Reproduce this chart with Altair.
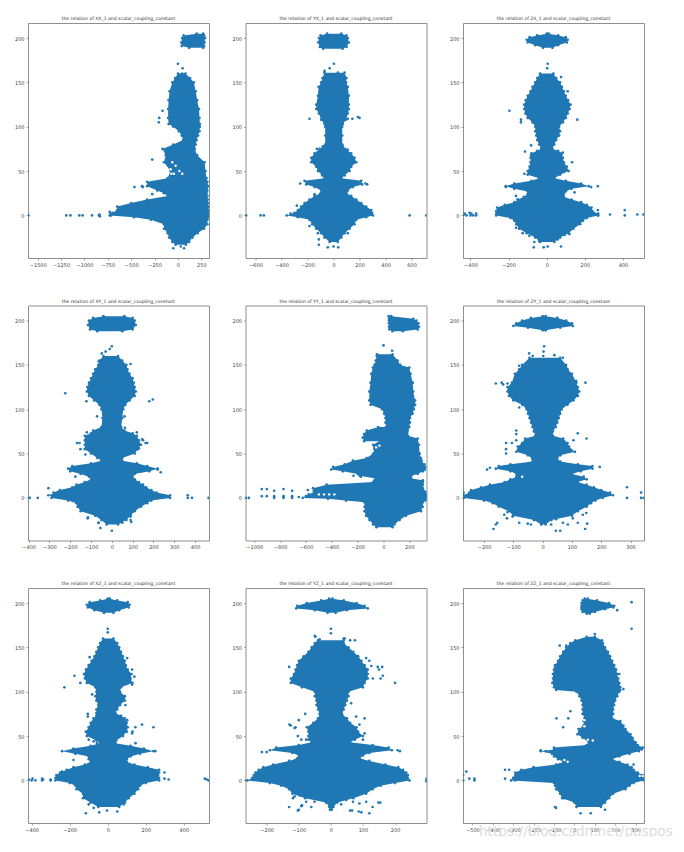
import altair as alt
import pandas as pd

BLUE = "#1f77b4"

NAMES = ["XX_1", "YX_1", "ZX_1", "XY_1", "YY_1", "ZY_1", "XZ_1", "YZ_1", "ZZ_1"]
Y_DOMAIN = [-48, 217]
Y_TICKS = [0, 50, 100, 150, 200]

X_DOMAINS = [[-1604, 332], [-677, 715], [-439, 510],
             [-403, 467], [-1068, 333], [-272, 346],
             [-419, 532], [-266, 298], [-546, 341]]
X_TICKS = [[-1500, -1250, -1000, -750, -500, -250, 0, 250],
           [-600, -400, -200, 0, 200, 400, 600],
           [-400, -200, 0, 200, 400],
           [-400, -300, -200, -100, 0, 100, 200, 300, 400],
           [-1000, -800, -600, -400, -200, 0, 200],
           [-200, -100, 0, 100, 200, 300],
           [-400, -200, 0, 200, 400],
           [-200, -100, 0, 100, 200],
           [-500, -400, -300, -200, -100, 0, 100, 200, 300]]

# Each row: scalar_coupling_constant level, left extent, right extent
XX_TOP = [(205,200,270),(203,60,280),(200,45,290),(195,35,285),(191,40,280),(189,120,270)]
XX_BODY = [(160,0,80),(155,-30,130),(150,-60,170),(140,-90,190),(130,-100,205),(120,-105,225),(110,-105,230),(103,-100,235),(100,-50,235),(95,10,230),(90,40,215),(85,55,200),(80,-50,190),(75,-165,180),(68,-130,205),(60,-150,285),(50,-80,295),(42,-110,305),(38,-330,315),(33,-330,325),(28,-220,315),(25,-150,307),(22,-110,315),(18,-330,320),(14,-500,322),(10,-650,325),(6,-650,328),(3,-700,332),(0,-730,332),(-2,-470,328),(-5,-290,315),(-10,-150,315),(-15,-150,280),(-20,-110,210),(-25,-95,155),(-30,-60,120),(-33,-25,85)]
XX_PTS = [(-1600,0),(-1195,0),(-1150,0),(-1055,0),(-1020,0),(-920,0),(-845,0),(-840,1),(-835,-1),(-720,2),(-715,0),(-730,4),(-465,32),(-385,33),(-375,32),(-275,63),(-275,24),(-165,118),(-200,110),(-205,105),(0,171),(50,166),(45,160),(-50,-37),(65,-37),(30,-35)]
XX_GAPS = [(-61,60),(-79,52),(-25,56),(46,47),(-43,47),(-70,47),(15,50)]

YX_TOP = [(205,-50,60),(203,-100,100),(200,-112,110),(195,-118,118),(190,-105,100),(188,-80,70)]
YX_BODY = [(161,-70,85),(155,-85,100),(150,-95,97),(145,-115,110),(135,-120,118),(125,-133,118),(120,-133,118),(115,-113,110),(108,-95,97),(103,-70,72),(100,-64,67),(90,-64,67),(80,-64,67),(78,-82,72),(75,-108,92),(70,-146,136),(65,-172,162),(60,-172,175),(55,-133,136),(50,-120,123),(45,-87,85),(42,-70,60),(39,-223,213),(35,-210,220),(32,-146,149),(28,-95,110),(25,-100,100),(22,-146,136),(18,-185,175),(14,-223,213),(10,-250,251),(6,-274,290),(3,-300,297),(0,-360,303),(-2,-274,251),(-5,-185,175),(-10,-164,162),(-15,-133,123),(-20,-95,85),(-25,-70,60),(-30,-30,33)]
YX_PTS = [(-185,109),(110,109),(145,109),(187,111),(200,110),(-30,166),(3,171),(-672,0),(-561,0),(-536,0),(585,0),(713,0),(-256,36),(246,36),(259,35),(-146,24),(-282,11),(-330,2),(-185,-12),(-113,-33),(-113,-27),(36,-36),(-44,-36),(0,-35),(110,-20),(-120,-20),(-128,75),(110,74),(167,60),(-69,163),(-56,157),(33,161),(85,153)]
YX_GAPS = []

ZX_TOP = [(205,0,10),(203,-50,60),(201,-90,100),(198,-105,110),(195,-100,105),(192,-60,60),(189,-20,30)]
ZX_BODY = [(160,-35,35),(155,-50,50),(150,-60,70),(145,-75,80),(140,-85,90),(135,-100,100),(130,-110,112),(125,-118,125),(120,-118,120),(115,-112,110),(110,-100,100),(105,-75,85),(100,-60,65),(95,-60,70),(90,-55,65),(85,-50,50),(80,-40,40),(75,-30,30),(73,-50,60),(70,-80,80),(65,-85,85),(60,-85,90),(55,-90,105),(50,-100,115),(46,-100,70),(42,-40,40),(39,-80,100),(36,-170,180),(33,-215,220),(30,-170,130),(27,-100,100),(24,-100,90),(21,-120,90),(18,-150,130),(15,-170,180),(12,-220,210),(9,-260,235),(5,-265,240),(2,-265,270),(0,-265,270),(-3,-190,210),(-6,-170,190),(-10,-160,175),(-15,-145,140),(-20,-105,115),(-25,-60,70),(-30,-35,40)]
ZX_PTS = [(-433,1),(-430,2),(-420,0),(-405,3),(-400,0),(-395,2),(-385,0),(-370,2),(-370,0),(268,6),(268,0),(332,1),(409,6),(409,0),(475,1),(507,1),(268,33),(233,32),(-196,118),(-135,108),(-135,105),(160,108),(110,140),(75,156),(5,171),(2,166),(-114,72),(133,60),(-68,-36),(75,-35),(-16,-36),(5,-35),(-161,-14),(-126,-20),(-91,-23),(-65,-30),(-39,-29),(93,-22),(119,-21),(58,-27),(-117,47),(-82,79),(-82,68),(84,71),(-214,32),(-161,22),(-153,18),(146,26)]
ZX_GAPS = []

XY_TOP = [(205,-40,60),(203,-90,100),(200,-110,110),(195,-115,115),(190,-105,100),(188,-70,50)]
XY_BODY = [(160,-40,30),(155,-60,50),(150,-65,70),(145,-80,75),(140,-90,85),(135,-100,100),(130,-110,105),(125,-118,110),(120,-120,115),(115,-110,110),(110,-85,85),(105,-60,65),(100,-50,55),(90,-45,50),(80,-50,45),(76,-90,60),(73,-100,100),(70,-130,120),(65,-130,130),(60,-130,140),(55,-130,125),(50,-100,110),(45,-70,50),(42,-50,50),(39,-100,120),(36,-190,170),(33,-210,220),(30,-200,180),(27,-150,110),(24,-110,100),(21,-100,110),(18,-130,130),(15,-170,150),(12,-190,165),(9,-250,190),(6,-280,215),(3,-290,280),(0,-290,280),(-3,-210,190),(-6,-170,170),(-10,-165,140),(-15,-150,110),(-20,-80,90),(-25,-50,70),(-30,-25,30)]
XY_PTS = [(-395,0),(-356,0),(-305,11),(-305,3),(-224,118),(180,109),(197,111),(365,3),(365,0),(385,0),(465,0),(-48,163),(-30,165),(-10,168),(0,171),(-55,-34),(0,-37),(-65,-28),(90,-25),(-115,-22),(235,29),(220,32),(-175,24),(150,65),(170,62),(120,74),(-120,74),(-155,62),(-116,-23),(-63,-28),(18,-28),(50,-28),(93,-27),(90,-21),(-79,-19),(-39,-21),(-167,62),(-151,55),(-127,49),(146,66),(162,62),(130,56),(63,79),(-71,92),(61,92),(-122,109),(90,151),(-63,154)]
XY_GAPS = []

YY_TOP = [(205,40,60),(202,42,230),(200,42,255),(197,42,270),(193,42,275),(190,45,265),(188,70,150)]
YY_BODY = [(162,-50,70),(155,-60,110),(150,-70,130),(147,-82,200),(140,-95,210),(130,-100,227),(120,-110,230),(110,-110,245),(105,-100,245),(100,-10,235),(95,5,225),(90,15,205),(85,15,205),(80,20,200),(70,30,190),(67,0,265),(60,-80,275),(50,-80,280),(45,-130,290),(42,-237,295),(38,-300,317),(35,-390,325),(32,-405,322),(30,-315,305),(27,-200,265),(25,-185,215),(22,-60,215),(20,-70,305),(18,-80,305),(15,-440,305),(11,-545,305),(7,-535,330),(4,-580,333),(2,-600,333),(0,-625,333),(-1,-430,333),(-3,-290,325),(-5,-147,305),(-10,-147,305),(-15,-147,290),(-20,-135,175),(-25,-108,125),(-30,-80,85),(-33,-55,70)]
YY_ARM = [(80,-40,60),(76,-130,70),(72,-150,60),(68,-160,50),(64,-150,40)]
YY_PTS = [(-1042,0),(-1065,0),(-942,10),(-903,10),(-942,2),(-903,2),(-846,8),(-846,2),(-846,0),(-774,10),(-774,2),(-774,0),(-707,8),(-707,2),(-707,0),(-655,1),(-586,9),(-540,8),(-232,25),(-175,24),(-147,26),(-103,27),(0,172),(67,166),(-52,160)]
YY_GAPS = [(-57,57),(-31,59),(-83,53),(-500,4),(-460,4),(-420,4),(-380,4)]

ZY_TOP = [(205,0,10),(203,-40,50),(200,-70,80),(197,-90,100),(194,-100,103),(192,-50,60),(189,0,10)]
ZY_BODY = [(158,-45,60),(150,-70,80),(145,-80,85),(140,-95,100),(130,-105,115),(125,-120,120),(120,-120,125),(115,-115,120),(110,-100,105),(105,-70,85),(100,-55,65),(95,-50,60),(90,-45,55),(85,-40,50),(80,-35,45),(75,-30,35),(70,-25,35),(67,-60,70),(62,-70,85),(58,-85,90),(52,-90,110),(48,-50,60),(44,-35,50),(41,-35,60),(38,-110,120),(36,-150,170),(33,-160,170),(30,-110,130),(27,-90,100),(24,-90,140),(21,-110,150),(18,-130,120),(15,-180,150),(12,-210,175),(9,-245,200),(6,-250,230),(3,-270,240),(0,-270,205),(-3,-200,180),(-6,-170,165),(-10,-150,150),(-15,-115,120),(-20,-100,100),(-25,-30,30),(-30,-5,10)]
ZY_PTS = [(5,171),(3,165),(2,160),(-160,129),(-135,128),(-140,130),(-120,129),(146,130),(288,12),(288,0),(336,6),(336,0),(345,0),(-270,6),(-270,0),(-168,-35),(-160,-30),(-155,-28),(145,-35),(45,-37),(60,-37),(120,73),(150,67),(105,65),(-125,62),(-125,55),(-125,50),(-90,76),(-90,72),(-90,65),(-105,62),(195,35),(-190,32),(-180,34),(-80,102),(-131,-19),(-122,-23),(-103,-21),(-80,-28),(-51,-29),(-40,-30),(-23,-24),(29,-30),(46,-24),(69,-28),(86,-30),(103,-23),(120,-28),(137,-19),(149,-17),(152,-29),(-120,-16),(-97,-17),(-46,163),(-34,160),(40,161),(69,158),(80,147),(91,139),(114,132),(-80,149)]
ZY_GAPS = [(-100,24),(-70,24)]

XZ_TOP = [(205,0,10),(203,-40,50),(201,-95,105),(198,-110,115),(195,-105,110),(192,-70,60),(189,-20,30)]
XZ_BODY = [(160,-25,30),(155,-40,50),(150,-50,60),(145,-60,70),(140,-70,80),(135,-85,90),(130,-100,95),(125,-115,105),(120,-125,125),(115,-120,120),(110,-110,130),(105,-65,70),(100,-60,65),(95,-65,90),(90,-60,90),(85,-50,65),(80,-60,50),(76,-60,40),(73,-60,70),(70,-75,90),(65,-90,100),(60,-100,105),(55,-115,100),(50,-110,80),(45,-60,45),(42,-40,40),(39,-90,120),(36,-180,190),(33,-240,240),(30,-170,170),(27,-100,120),(24,-100,100),(21,-90,100),(18,-120,140),(15,-180,210),(12,-215,270),(9,-250,270),(6,-270,265),(3,-275,270),(0,-275,270),(-3,-200,200),(-6,-170,170),(-10,-165,160),(-15,-130,140),(-20,-130,110),(-25,-90,90),(-30,-50,60)]
XZ_PTS = [(-228,105),(-175,118),(-415,1),(-400,0),(-395,2),(-380,0),(-345,2),(-345,0),(-340,1),(-300,1),(-300,0),(-240,10),(298,9),(298,2),(320,1),(510,2),(520,1),(530,0),(180,63),(240,60),(0,171),(0,167),(-115,-37),(-45,-36),(50,-35),(145,60),(130,55),(-105,75),(-180,23),(-180,32),(250,33),(-126,-16),(-100,-27),(-74,-31),(-4,-34),(84,-27),(110,-18),(-91,-22),(40,-26),(-105,72),(-91,57),(-100,46),(-74,44),(-56,42),(128,53),(102,68),(146,42),(-82,97),(84,93),(93,85),(-95,139),(102,138),(128,125),(140,117),(128,108),(-144,110)]
XZ_GAPS = []

YZ_TOP = [(205,-5,5),(203,-30,40),(200,-75,80),(197,-105,105),(194,-108,115),(192,-50,50),(189,-10,15)]
YZ_BODY = [(158,-40,40),(155,-50,40),(150,-60,55),(145,-70,70),(140,-85,85),(135,-100,95),(130,-105,105),(125,-110,115),(120,-115,115),(115,-125,115),(110,-125,105),(105,-90,100),(100,-50,55),(95,-50,55),(90,-45,50),(85,-45,45),(80,-40,40),(75,-35,35),(70,-40,50),(65,-55,60),(60,-75,80),(55,-70,85),(50,-70,100),(46,-70,75),(43,-60,60),(40,-100,130),(37,-170,180),(34,-190,190),(31,-120,120),(28,-100,100),(25,-105,90),(22,-130,120),(18,-180,170),(15,-210,210),(12,-225,225),(9,-235,235),(6,-240,240),(3,-245,240),(0,-260,245),(-3,-190,200),(-6,-155,155),(-10,-130,130),(-15,-120,110),(-20,-80,70),(-25,-15,20),(-30,-5,8),(-33,-3,3)]
YZ_PTS = [(0,171),(0,166),(-50,163),(75,158),(60,158),(40,160),(-130,128),(160,128),(150,125),(155,115),(200,110),(120,135),(-125,62),(-110,60),(-100,68),(-80,75),(105,70),(-215,32),(-200,32),(208,34),(215,33),(-130,-30),(-100,-33),(-90,-28),(60,-34),(95,-36),(120,-37),(130,-30),(148,-25),(-268,0),(298,0),(298,2),(298,-1),(-118,-20),(-103,-34),(-92,-29),(-77,-24),(-61,-30),(-51,-24),(-30,-22),(32,-27),(66,-34),(87,-35),(154,-25),(110,-24),(89,-26),(69,-24),(48,-22),(-96,-17),(-113,-18),(-48,162),(-35,159),(43,160),(84,140),(110,138),(126,129),(146,128),(162,118),(131,115),(-129,63),(-113,59),(-103,50),(-92,46),(-77,46),(79,72),(89,63),(105,53),(100,46),(63,87)]
YZ_GAPS = []

ZZ_TOP = [(205,50,65),(203,40,110),(200,35,170),(197,35,195),(195,35,190),(193,35,150),(190,40,100),(188,60,75)]
ZZ_BODY = [(162,60,100),(158,5,135),(155,-20,140),(150,-40,150),(145,-55,165),(140,-70,175),(135,-80,185),(130,-95,195),(125,-100,205),(120,-105,210),(115,-105,215),(110,-108,220),(105,-100,225),(102,-90,225),(100,10,220),(95,25,210),(90,35,200),(85,40,195),(80,40,190),(75,40,190),(70,50,185),(67,45,225),(62,45,240),(58,20,250),(52,15,275),(48,40,285),(43,70,300),(40,60,310),(37,-100,335),(35,-100,330),(33,-165,315),(30,-110,270),(27,-100,220),(24,-80,185),(21,-60,220),(18,-90,260),(15,-200,280),(12,-260,290),(9,-290,310),(6,-290,335),(3,-300,340),(0,-310,340),(-3,-100,290),(-6,-95,270),(-10,-90,250),(-15,-70,190),(-20,-60,170),(-25,0,150),(-30,10,130)]
ZZ_PTS = [(280,201),(280,171),(210,192),(100,165),(-72,152),(-40,152),(-95,127),(220,120),(240,103),(-88,70),(-55,60),(-30,70),(-20,78),(-530,10),(-515,2),(-490,2),(-490,0),(-340,12),(-320,12),(-340,2),(-290,0),(-545,0),(-545,6),(-165,34),(-140,33),(-95,-30),(-90,-31),(-50,-20),(30,-37),(80,-37),(150,-33),(290,18),(260,-3)]
ZZ_GAPS = [(66,46),(90,45),(49,61),(49,68),(-49,23),(-33,21),(-66,21),(320,5),(335,5)]

BLOBS = [[XX_TOP, XX_BODY], [YX_TOP, YX_BODY], [ZX_TOP, ZX_BODY],
         [XY_TOP, XY_BODY], [YY_TOP, YY_BODY, YY_ARM], [ZY_TOP, ZY_BODY],
         [XZ_TOP, XZ_BODY], [YZ_TOP, YZ_BODY], [ZZ_TOP, ZZ_BODY]]
POINTS = [XX_PTS, YX_PTS, ZX_PTS, XY_PTS, YY_PTS, ZY_PTS, XZ_PTS, YZ_PTS, ZZ_PTS]
GAPS = [XX_GAPS, YX_GAPS, ZX_GAPS, XY_GAPS, YY_GAPS, ZY_GAPS, XZ_GAPS, YZ_GAPS, ZZ_GAPS]
WATERMARK = "https://blog.csdn.net/puspos"


def panel(i):
    rows = [
        {"part": p, "y": y, "l": l, "r": r}
        for p, blob in enumerate(BLOBS[i])
        for y, l, r in blob
    ]
    blobs = pd.DataFrame(rows)
    pts = pd.DataFrame(POINTS[i], columns=["x", "y"])

    xs = alt.Scale(domain=X_DOMAINS[i], nice=False, zero=False)
    ys = alt.Scale(domain=Y_DOMAIN, nice=False, zero=False)
    xax = alt.Axis(values=X_TICKS[i], title=None, grid=False, labelFontSize=5, format="d",
                   tickSize=2, tickWidth=0.5, tickColor="#555", labelColor="#444",
                   labelPadding=2, domain=False, labelFlush=False, labelOverlap=False)
    yax = alt.Axis(values=Y_TICKS, title=None, grid=False, labelFontSize=5,
                   tickSize=2, tickWidth=0.5, tickColor="#555", labelColor="#444",
                   labelPadding=2, domain=False, labelOverlap=False)

    def circles(frame, field, color=BLUE, size=7):
        return alt.Chart(frame).mark_circle(size=size, color=color, opacity=1, clip=True).encode(
            x=alt.X(f"{field}:Q", scale=xs, axis=xax), y=alt.Y("y:Q", scale=ys, axis=yax))

    area = alt.Chart(blobs).mark_area(orient="horizontal", color=BLUE).encode(
        y=alt.Y("y:Q", scale=ys, axis=yax),
        x=alt.X("l:Q", scale=xs, axis=xax),
        x2="r:Q",
        detail="part:N",
    )
    layers = [area, circles(blobs, "l"), circles(blobs, "r")]
    if GAPS[i]:
        layers.append(circles(pd.DataFrame(GAPS[i], columns=["x", "y"]), "x", "white", 6))
    layers.append(circles(pts, "x"))
    if i == 8:
        mark = alt.Chart(pd.DataFrame({"t": [WATERMARK]})).mark_text(
            font="DejaVu Sans", fontSize=13.6, color="#dcdcdc", align="left", baseline="middle",
        ).encode(text="t:N", x=alt.value(16), y=alt.value(244))
        layers.append(mark)
    return alt.layer(*layers).properties(
        width=181, height=235,
        title=alt.TitleParams(f"the relation of {NAMES[i]} and scalar_coupling_constant",
                              fontSize=4.55, fontWeight="normal", color="#333", offset=2,
                              font="DejaVu Sans"),
    )


chart = alt.concat(*[panel(i) for i in range(9)], columns=3,
                   spacing=alt.RowColnumber(column=36.5, row=47.5), bounds="flush")
chart = chart.properties(
    padding={"left": 5, "top": 7, "right": 0, "bottom": -3}
).configure_view(stroke="#8f8f8f", strokeWidth=1).configure_axis(
    labelFont="DejaVu Sans"
)
chart.save("out.html", embed_options={"renderer": "svg", "actions": False})
